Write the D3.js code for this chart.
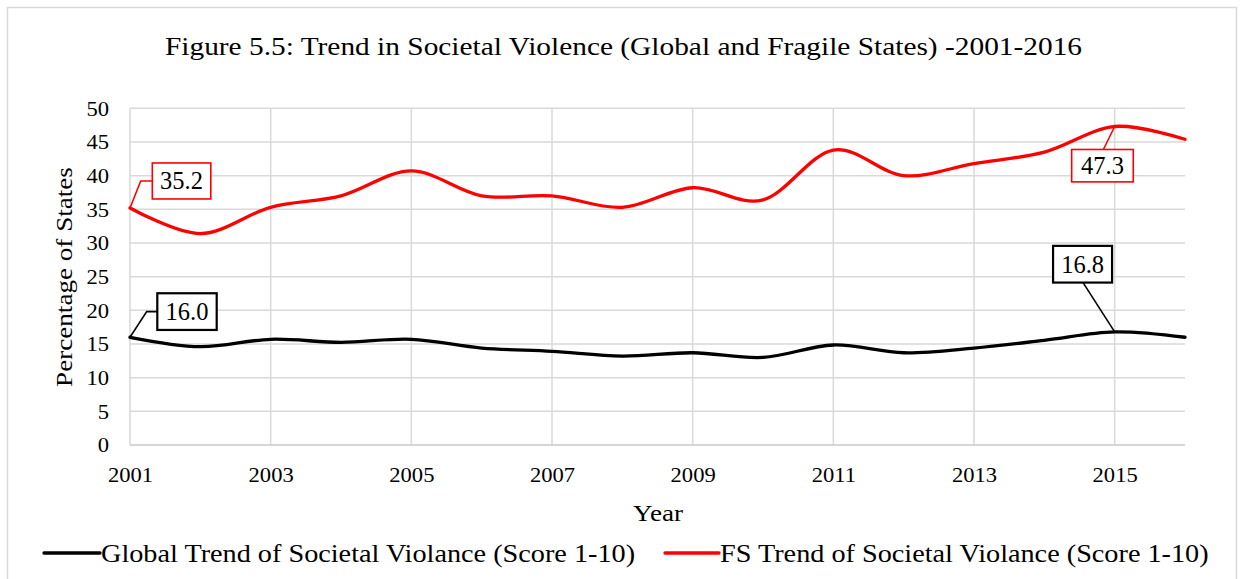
<!DOCTYPE html>
<html>
<head>
<meta charset="utf-8">
<script src="https://cdn.jsdelivr.net/npm/d3@7"></script>
<style>
  html, body { margin: 0; padding: 0; background: #fff; }
  svg { display: block; }
  svg text { font-family: "Liberation Serif", "Times New Roman", serif; fill: #000; }
</style>
</head>
<body>
<svg id="chart" width="1241" height="579" font-family='"Liberation Serif", "Times New Roman", serif'></svg>
<script>
// Societal violence trend, 2001-2016
const years = [2001, 2002, 2003, 2004, 2005, 2006, 2007, 2008, 2009, 2010, 2011, 2012, 2013, 2014, 2015, 2016];
const globalTrend = [16.0, 14.6, 15.7, 15.25, 15.7, 14.4, 13.9, 13.2, 13.7, 13.0, 14.85, 13.7, 14.4, 15.55, 16.8, 16.0];
const fsTrend = [35.2, 31.4, 35.3, 37.0, 40.7, 37.0, 37.0, 35.3, 38.2, 36.4, 43.8, 40.0, 41.8, 43.5, 47.3, 45.4];
const xTickYears = [2001, 2003, 2005, 2007, 2009, 2011, 2013, 2015];
const yTicks = [0, 5, 10, 15, 20, 25, 30, 35, 40, 45, 50];
const seriesNames = ["Global Trend of Societal Violance (Score 1-10)", "FS Trend of Societal Violance (Score 1-10)"];
const titleText = "Figure 5.5: Trend in Societal Violence (Global and Fragile States) -2001-2016";

const FONT = '"Liberation Serif", "Times New Roman", serif';
const SX = 1.13; // horizontal widening of the serif lettering

const svg = d3.select("#chart");
const W = 1241, H = 579;
const plot = { left: 130, right: 1185, top: 108.3, bottom: 445 };

// text placed at (tx, ty), optionally rotated, widened along its own baseline
function label(parent, str, tx, ty, size, anchor, rotate = 0, sx = SX) {
  return parent.append("text")
    .attr("transform", `translate(${tx},${ty}) rotate(${rotate}) scale(${sx},1)`)
    .attr("text-anchor", anchor)
    .style("font-family", FONT)
    .style("font-size", size + "px")
    .style("fill", "#000")
    .text(str);
}

// outer chart frame
svg.append("rect")
  .attr("x", 7.5).attr("y", 7.5).attr("width", 1229).attr("height", H + 10)
  .attr("fill", "#fff").attr("stroke", "#d9d9d9").attr("stroke-width", 1.5);

const x = d3.scaleLinear().domain([2001, 2016]).range([plot.left, plot.right]);
const y = d3.scaleLinear().domain([0, 50]).range([plot.bottom, plot.top]);

// title
label(svg, titleText, 623.5, 55, 26, "middle");

// horizontal gridlines
svg.append("g").selectAll("line").data(yTicks.filter(d => d > 0)).join("line")
  .attr("x1", plot.left).attr("x2", plot.right)
  .attr("y1", d => y(d)).attr("y2", d => y(d))
  .attr("stroke", "#d9d9d9").attr("stroke-width", 1.5);

// vertical gridlines at labelled years
svg.append("g").selectAll("line").data(xTickYears).join("line")
  .attr("x1", d => x(d)).attr("x2", d => x(d))
  .attr("y1", plot.top).attr("y2", plot.bottom)
  .attr("stroke", "#d9d9d9").attr("stroke-width", 1.5);

// category axis line
svg.append("line")
  .attr("x1", plot.left).attr("x2", plot.right)
  .attr("y1", y(0)).attr("y2", y(0))
  .attr("stroke", "#c8c8c8").attr("stroke-width", 1.5);

// y axis
const yAxis = d3.axisLeft(y).tickValues(yTicks).tickSize(0).tickPadding(0);
const gy = svg.append("g").attr("transform", `translate(${plot.left},0)`).call(yAxis);
gy.select(".domain").remove();
gy.selectAll("text")
  .attr("x", 0).attr("dy", "0.34em")
  .attr("transform", `translate(-21,0) scale(${SX},1)`)
  .style("font-family", FONT)
  .style("font-size", "20px").style("fill", "#000");

// x axis
const xAxis = d3.axisBottom(x).tickValues(xTickYears).tickFormat(d3.format("d")).tickSize(0).tickPadding(0);
const gx = svg.append("g").attr("transform", `translate(0,${plot.bottom})`).call(xAxis);
gx.select(".domain").remove();
gx.selectAll("text")
  .attr("y", 0).attr("dy", 0)
  .attr("transform", `translate(0,36.5) scale(${SX},1)`)
  .style("font-family", FONT)
  .style("font-size", "20px").style("fill", "#000");

// axis titles
label(svg, "Year", 658, 521, 24, "middle");
label(svg, "Percentage of States", 72, 277, 24, "middle", -90);

// smoothed series lines
const line = d3.line()
  .x((d, i) => x(years[i]))
  .y(d => y(d))
  .curve(d3.curveCardinal.tension(0));

const series = [
  { values: globalTrend, color: "#000000" },
  { values: fsTrend, color: "#ff0000" }
];

svg.append("g").selectAll("path").data(series).join("path")
  .attr("d", d => line(d.values))
  .attr("fill", "none")
  .attr("stroke", d => d.color)
  .attr("stroke-width", 3.3)
  .attr("stroke-linecap", "round")
  .attr("stroke-linejoin", "round");

// data callouts: box offset from the point, and leader path
const fmt = d3.format(".1f");
const callouts = [
  { values: fsTrend, idx: 0, color: "#ff0000", bw: 58.5, bh: 36, bx: 22.3, by: -45, sw: 1.6,
    leader: (px, py, b) => [[px, py], [px + 10.7, b.y + b.h / 2], [b.x, b.y + b.h / 2]] },
  { values: globalTrend, idx: 0, color: "#000000", bw: 59.4, bh: 36.7, bx: 27.3, by: -44, sw: 2.2,
    leader: (px, py, b) => [[px, py], [px + 16.7, b.y + b.h / 2], [b.x, b.y + b.h / 2]] },
  { values: fsTrend, idx: 14, color: "#ff0000", bw: 61.6, bh: 32.4, bx: -43, by: 23, sw: 1.6,
    leader: (px, py, b) => [[px, py], [px - 11.3, b.y]] },
  { values: globalTrend, idx: 14, color: "#000000", bw: 59, bh: 36.7, bx: -61.6, by: -86, sw: 2.2,
    leader: (px, py, b) => [[px, py], [b.x + 30, b.y + b.h]] }
];

const cg = svg.append("g");
callouts.forEach(c => {
  const v = c.values[c.idx];
  const px = x(years[c.idx]), py = y(v);
  const b = { x: px + c.bx, y: py + c.by, w: c.bw, h: c.bh };
  cg.append("path")
    .attr("d", d3.line()(c.leader(px, py, b)))
    .attr("fill", "none").attr("stroke", c.color).attr("stroke-width", 1.6);
  cg.append("rect")
    .attr("x", b.x).attr("y", b.y).attr("width", b.w).attr("height", b.h)
    .attr("fill", "#fff").attr("stroke", c.color).attr("stroke-width", c.sw);
  label(cg, fmt(v), b.x + b.w / 2, b.y + b.h / 2 + 8.3, 24.5, "middle", 0, 1);
});

// legend
const legend = [
  { name: seriesNames[0], color: "#000000", x1: 44, x2: 100, tx: 101 },
  { name: seriesNames[1], color: "#ff0000", x1: 665, x2: 719, tx: 720 }
];
const lg = svg.append("g");
legend.forEach(l => {
  lg.append("line")
    .attr("x1", l.x1).attr("x2", l.x2).attr("y1", 553).attr("y2", 553)
    .attr("stroke", l.color).attr("stroke-width", 3.3).attr("stroke-linecap", "round");
  label(lg, l.name, l.tx, 562, 25, "start");
});
</script>
</body>
</html>
